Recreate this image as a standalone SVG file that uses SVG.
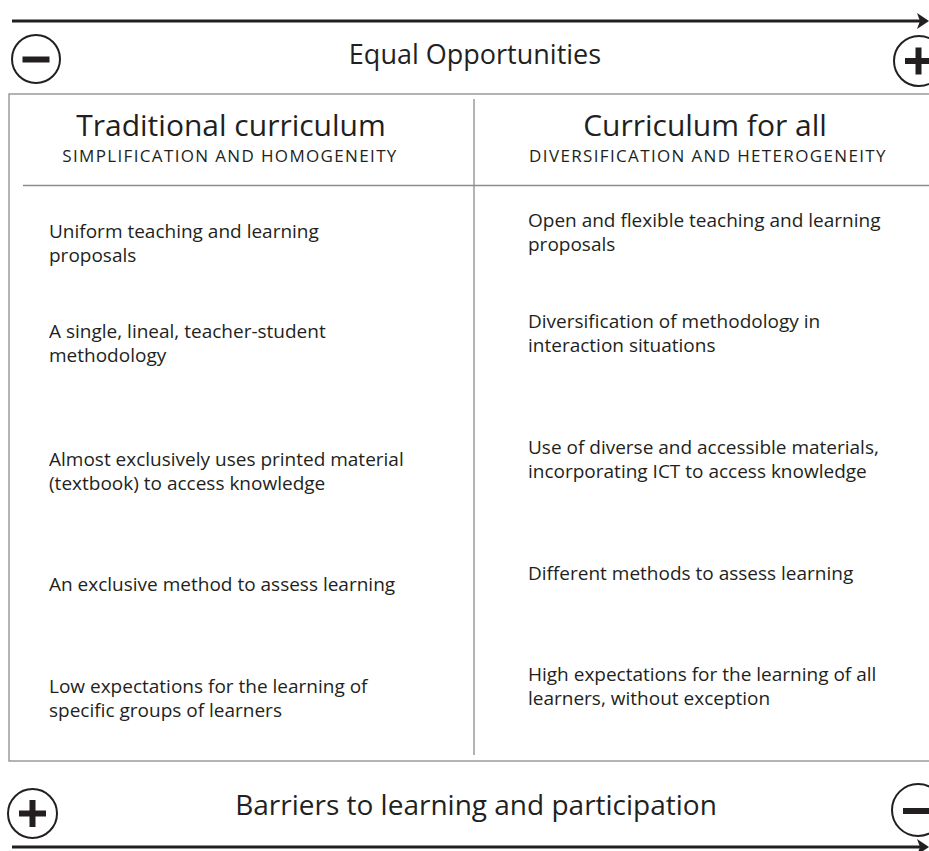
<svg xmlns="http://www.w3.org/2000/svg" width="929" height="851" viewBox="0 0 929 851">
<defs>
<style>
.t{font-family:"Open Sans","Noto Sans","Liberation Sans",sans-serif;fill:#231f20}
.body{font-size:19px}
.h1{font-size:30px;text-anchor:middle}
.h2{font-size:17px;text-anchor:middle;letter-spacing:1.35px}
.axis{font-size:27px;text-anchor:middle}
.circ{fill:#fff;stroke:#231f20;stroke-width:2}
.bar{fill:#231f20}
.grid{stroke:#8c8c8c;stroke-width:1.3;fill:none}
.arr{stroke:#231f20;stroke-width:3.2;fill:none}
</style>
</defs>
<rect width="929" height="851" fill="#fff"/>
<g id="connectors">
<path class="arr" d="M12,21 H920"/>
<path d="M917,13 L929,21 L917,29 L920,21 Z" fill="#231f20"/>
<path class="arr" d="M12,847 H920"/>
<path d="M917,839 L929,847 L917,855 L920,847 Z" fill="#231f20"/>
</g>
<g id="top-axis">
<text class="t axis" x="475" y="64">Equal Opportunities</text>
<g id="top-minus"><circle class="circ" cx="36" cy="59" r="24"/><rect class="bar" x="22.5" y="56.5" width="27" height="6"/></g>
<g id="top-plus"><circle class="circ" cx="919" cy="61" r="25"/><rect class="bar" x="905" y="58" width="27" height="6"/><rect class="bar" x="915.5" y="47.5" width="6" height="27"/></g>
</g>
<g id="table">
<rect class="grid" x="9" y="94" width="940" height="667"/>
<line class="grid" x1="474" y1="99" x2="474" y2="755"/>
<line class="grid" x1="23" y1="185.5" x2="929" y2="185.5"/>
</g>
<g id="col-left">
<text class="t h1" x="231" y="136">Traditional curriculum</text>
<text class="t h2" x="230" y="162">SIMPLIFICATION AND HOMOGENEITY</text>
<text class="t body" x="49" y="238">Uniform teaching and learning</text>
<text class="t body" x="49" y="262">proposals</text>
<text class="t body" x="49" y="338">A single, lineal, teacher-student</text>
<text class="t body" x="49" y="362">methodology</text>
<text class="t body" x="49" y="466">Almost exclusively uses printed material</text>
<text class="t body" x="49" y="490">(textbook) to access knowledge</text>
<text class="t body" x="49" y="591">An exclusive method to assess learning</text>
<text class="t body" x="49" y="693">Low expectations for the learning of</text>
<text class="t body" x="49" y="717">specific groups of learners</text>
</g>
<g id="col-right">
<text class="t h1" x="705" y="136">Curriculum for all</text>
<text class="t h2" x="708" y="162">DIVERSIFICATION AND HETEROGENEITY</text>
<text class="t body" x="528" y="227">Open and flexible teaching and learning</text>
<text class="t body" x="528" y="251">proposals</text>
<text class="t body" x="528" y="328">Diversification of methodology in</text>
<text class="t body" x="528" y="352">interaction situations</text>
<text class="t body" x="528" y="454">Use of diverse and accessible materials,</text>
<text class="t body" x="528" y="478">incorporating ICT to access knowledge</text>
<text class="t body" x="528" y="580">Different methods to assess learning</text>
<text class="t body" x="528" y="681">High expectations for the learning of all</text>
<text class="t body" x="528" y="705">learners, without exception</text>
</g>
<g id="bottom-axis">
<text class="t axis" x="476" y="815" style="font-size:28px">Barriers to learning and participation</text>
<g id="bottom-plus"><circle class="circ" cx="32.5" cy="813.5" r="24.5"/><rect class="bar" x="19" y="810.5" width="27" height="6"/><rect class="bar" x="29.5" y="800" width="6" height="27"/></g>
<g id="bottom-minus"><circle class="circ" cx="918" cy="810" r="26"/><rect class="bar" x="903" y="808" width="30" height="6"/></g>
</g>
</svg>
